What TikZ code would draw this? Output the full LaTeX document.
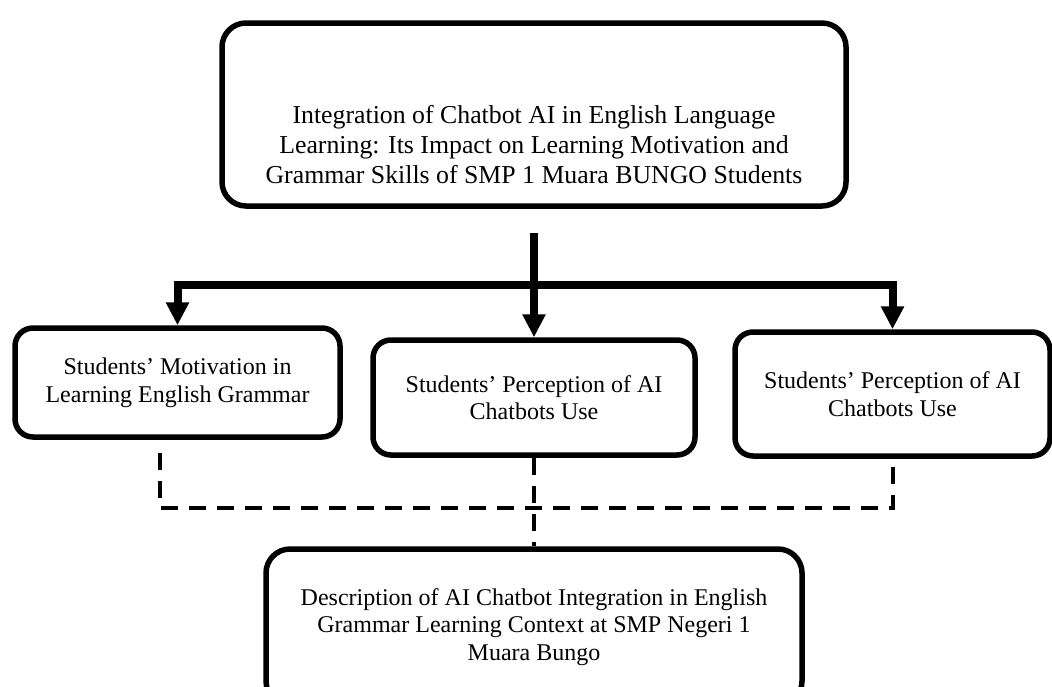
\documentclass[tikz,border=0pt]{standalone}
\usepackage{fontspec}
\setmainfont{Liberation Serif}
\usetikzlibrary{positioning,arrows.meta}

\begin{document}
\begin{tikzpicture}[x=0.5pt, y=-0.5pt, node distance=1cm and 2cm, on grid,
	font=\fontsize{12pt}{13.8pt}\selectfont,
	box/.style={draw, black, line width=2.75pt, rounded corners=9pt, align=center},
	bigbox/.style={box, rounded corners=12pt},
	flow/.style={line width=4pt, -{Triangle[width=11pt, length=11.5pt]}},
	link/.style={line width=2pt, dash pattern=on 8.5pt off 5.5pt}]
	\useasboundingbox (0,0) rectangle (1052,686);

	\node[bigbox, minimum width=312pt, minimum height=91.5pt] (title) at (534,114.5) {};
	\node[align=center, font=\fontsize{12.9pt}{15pt}\selectfont] (titletext) at ([yshift=-15pt]title.center) {Integration of Chatbot AI in English Language\\ Learning: Its Impact on Learning Motivation and\\ Grammar Skills of SMP 1 Muara BUNGO Students};
	\node[box, minimum width=161pt, minimum height=57.5pt] (perception) [below=141.5pt of title] {Students’ Perception of AI\\ Chatbots Use};
	\node[box, minimum width=162.5pt, minimum height=54.5pt] (motivation) [above left=7.5pt and 178.25pt of perception] {Students’ Motivation in\\ Learning English Grammar};
	\node[box, minimum width=157.5pt, minimum height=62pt] (perceptionB) [above right=1.75pt and 179.25pt of perception] {Students’ Perception of AI\\ Chatbots Use};
	\node[bigbox, minimum width=268pt, minimum height=78pt] (description) [below=114.75pt of perception] {Description of AI Chatbot Integration in English\\ Grammar Learning Context at SMP Negeri 1\\ Muara Bungo};

	\coordinate (fork) at ([yshift=-38pt]title.south);
	\coordinate (merge) at ([yshift=19pt]description.north);

	\draw[flow] ([yshift=-12pt]title.south) -- (perception.north);
	\draw[flow] (fork) -| (motivation.north);
	\draw[flow] (fork) -| (perceptionB.north);

	\draw[link] ([xshift=-8.75pt, yshift=-6.5pt]motivation.south) |- (merge) -| (perceptionB.south);
	\draw[link] (perception.south) -- (description.north);
\end{tikzpicture}
\end{document}
